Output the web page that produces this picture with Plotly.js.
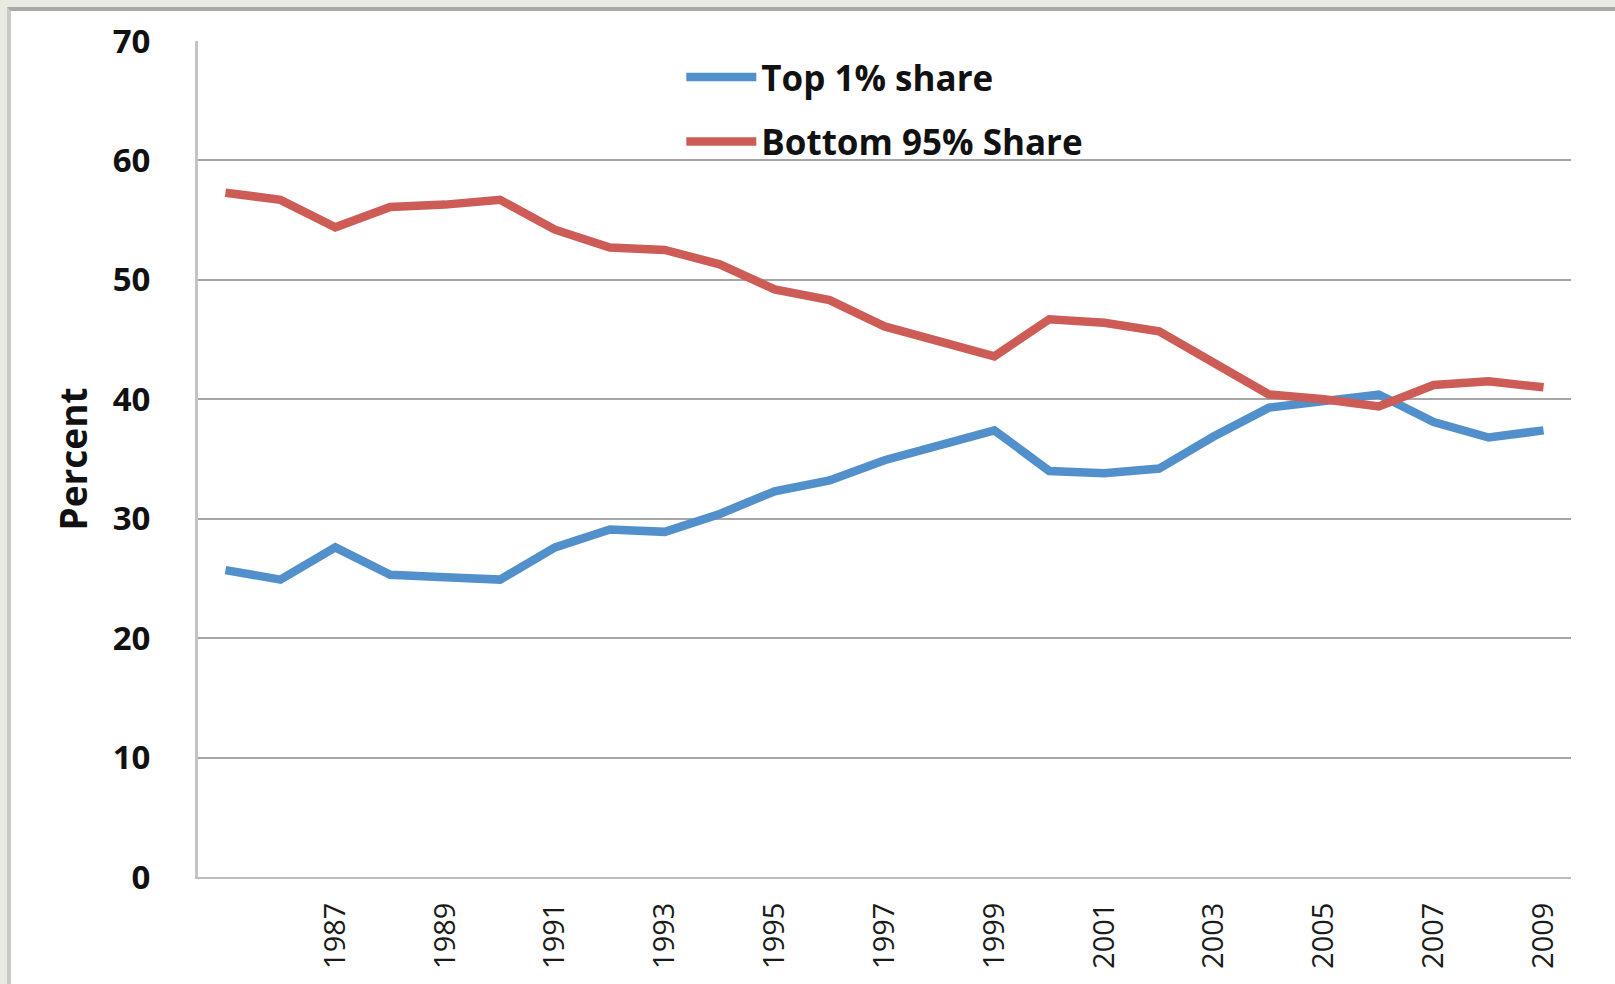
<!DOCTYPE html>
<html>
<head>
<meta charset="utf-8">
<script src="https://cdn.plot.ly/plotly-3.0.1.min.js"></script>
<style>
  html, body { margin: 0; padding: 0; background: #e9eae1; width: 1615px; height: 984px; overflow: hidden; }
  #frame { position: absolute; left: 7px; top: 7px; width: 1608px; height: 977px; box-sizing: border-box;
           border-left: 4px solid #c9c9c6; border-top: 4px solid #a9a9a6; background: #ffffff; }
  #chart { position: absolute; left: 0; top: 0; width: 1604px; height: 973px; }
</style>
</head>
<body>
<div id="frame"><div id="chart"></div></div>
<script>
const years = [1985,1986,1987,1988,1989,1990,1991,1992,1993,1994,1995,1996,1997,1998,1999,2000,2001,2002,2003,2004,2005,2006,2007,2008,2009];
const top1Share = [25.7,24.9,27.6,25.3,25.1,24.9,27.6,29.1,28.9,30.4,32.3,33.2,34.9,36.1,37.4,34.0,33.8,34.2,36.9,39.3,39.9,40.4,38.1,36.8,37.4];
const bottom95Share = [57.3,56.7,54.4,56.1,56.3,56.7,54.2,52.7,52.5,51.3,49.2,48.3,46.1,44.8,43.6,46.7,46.4,45.7,43.0,40.4,40.0,39.4,41.2,41.5,41.0];
const seriesNames = ["Top 1% share", "Bottom 95% Share"];
const xTickYears = [1987,1989,1991,1993,1995,1997,1999,2001,2003,2005,2007,2009];
const yTicks = [0,10,20,30,40,50,60,70];

const blue = "#5290cb";
const red = "#cd5c56";

const traces = [
  { x: years, y: top1Share, name: seriesNames[0], type: "scatter", mode: "lines",
    line: { color: blue, width: 8.5 }, legendgroup: "a" },
  { x: years, y: bottom95Share, name: seriesNames[1], type: "scatter", mode: "lines",
    line: { color: red, width: 8.5 }, legendgroup: "b" }
];

const layout = {
  width: 1604, height: 973,
  margin: { l: 187, r: 44, t: 30, b: 107 },
  paper_bgcolor: "#ffffff",
  plot_bgcolor: "#ffffff",
  showlegend: true,
  legend: {
    x: 0.352, y: 0.992, xanchor: "left", yanchor: "top",
    bgcolor: "rgba(0,0,0,0)",
    font: { family: "Open Sans, sans-serif", size: 35, color: "#111111", weight: "bold" },
    tracegroupgap: 16,
    itemwidth: 70
  },
  xaxis: {
    range: [1984.5, 2009.5],
    tickmode: "array",
    tickvals: xTickYears,
    ticktext: xTickYears.map(String),
    tickangle: -90,
    ticks: "",
    ticklabelstandoff: 12,
    tickfont: { family: "Open Sans, sans-serif", size: 29, color: "#1a1a1a" },
    showgrid: false,
    zeroline: false,
    showline: true,
    linecolor: "#bdbdbd",
    linewidth: 2,
    fixedrange: true
  },
  yaxis: {
    range: [0, 70],
    tickmode: "array",
    tickvals: yTicks,
    ticks: "",
    ticklabelstandoff: 38,
    tickfont: { family: "Open Sans, sans-serif", size: 33, color: "#111111", weight: "bold" },
    showgrid: true,
    gridcolor: "#a6a6a6",
    gridwidth: 2,
    zeroline: false,
    showline: true,
    linecolor: "#c4c4c4",
    linewidth: 3,
    title: { text: "Percent", standoff: 14,
             font: { family: "Open Sans, sans-serif", size: 37, color: "#111111", weight: "bold" } },
    fixedrange: true
  }
};

Plotly.newPlot("chart", traces, layout, { displayModeBar: false, staticPlot: true });
</script>
</body>
</html>
